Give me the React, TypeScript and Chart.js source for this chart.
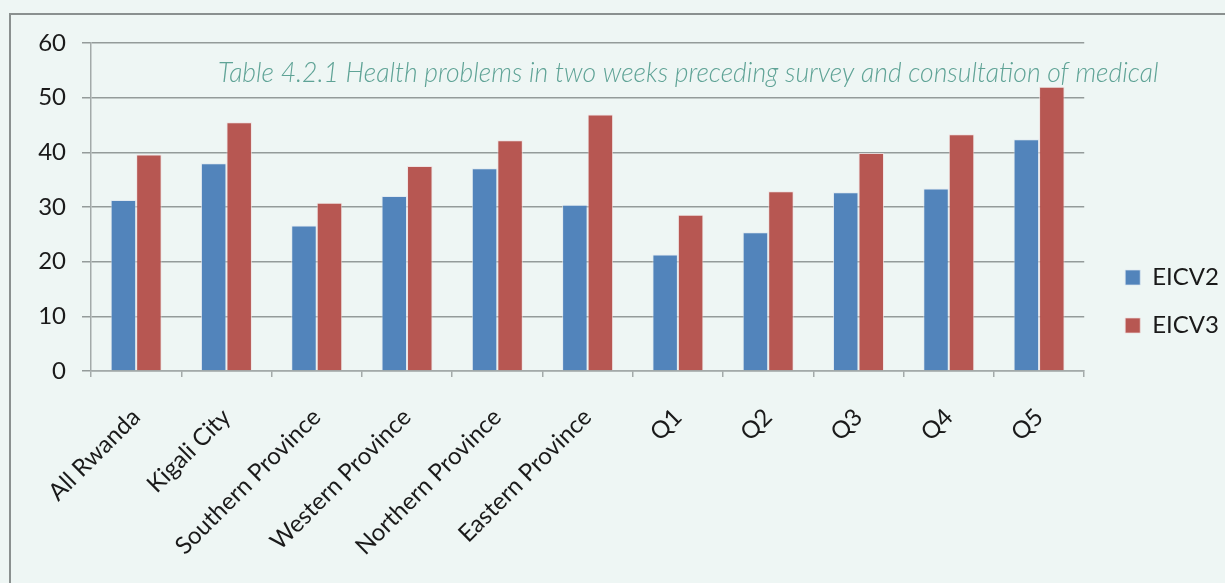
import React, { useEffect, useRef } from "react";
import { Chart, registerables } from "chart.js";

Chart.register(...registerables);

const categories = [
  "All Rwanda",
  "Kigali City",
  "Southern Province",
  "Western Province",
  "Northern Province",
  "Eastern Province",
  "Q1",
  "Q2",
  "Q3",
  "Q4",
  "Q5",
];
const eicv2 = [31.3, 38.0, 26.6, 32.0, 37.1, 30.4, 21.3, 25.4, 32.7, 33.4, 42.4];
const eicv3 = [39.6, 45.5, 30.8, 37.5, 42.2, 46.9, 28.6, 32.9, 39.9, 43.3, 52.0];
const seriesNames = ["EICV2", "EICV3"];
const yMin = 0;
const yMax = 60;
const yStep = 10;
const titleText =
  "Table 4.2.1 Health problems in two weeks preceding survey and consultation of medical";

const BG = "#eef6f4";
const GRID = "#949b9a";
const AXIS = "#a3aaa9";
const FONT = "Lato, 'Open Sans', sans-serif";

export default function App() {
  const ref = useRef<HTMLCanvasElement | null>(null);

  useEffect(() => {
    document.body.style.margin = "0";
    document.body.style.background = BG;
    const canvas = ref.current;
    if (!canvas) return;

    const titlePlugin = {
      id: "tableTitle",
      afterDraw(chart: any) {
        const { ctx, chartArea } = chart;
        ctx.save();
        ctx.font = "italic 300 26.5px " + FONT;
        ctx.fillStyle = "#5fa396";
        ctx.textAlign = "left";
        ctx.textBaseline = "alphabetic";
        ctx.fillText(titleText, chartArea.left + 127, chartArea.top + 39);
        ctx.restore();
      },
    };

    const legendShift = {
      id: "legendShift",
      afterLayout(chart: any) {
        const lg = chart.legend;
        if (lg) {
          lg.left += 17;
          lg.right += 17;
        }
      },
    };

    const chart = new Chart(canvas, {
      type: "bar",
      data: {
        labels: categories,
        datasets: [
          {
            label: seriesNames[0],
            data: eicv2,
            backgroundColor: "#5284bb",
            borderColor: "rgba(220,230,240,0.7)",
            borderWidth: 1,
          },
          {
            label: seriesNames[1],
            data: eicv3,
            backgroundColor: "#b75752",
            borderColor: "rgba(240,220,220,0.7)",
            borderWidth: 1,
          },
        ],
      },
      options: {
        animation: false,
        responsive: false,
        maintainAspectRatio: false,
        devicePixelRatio: 1,
        layout: { padding: { left: 0, top: 43, right: 13, bottom: 23 } },
        datasets: {
          bar: { categoryPercentage: 0.565, barPercentage: 1.0 },
        },
        plugins: {
          title: { display: false },
          tooltip: { enabled: false },
          legend: {
            display: true,
            position: "right",
            labels: {
              boxWidth: 15,
              boxHeight: 15,
              padding: 24,
              color: "#1a1a1a",
              font: { family: FONT, size: 24 },
            },
          },
        },
        scales: {
          x: {
            type: "category",
            afterFit(scale: any) {
              scale.height = 583 - 23 - 371;
            },
            grid: {
              display: true,
              drawOnChartArea: false,
              drawTicks: true,
              tickLength: 6,
              offset: true,
              color: AXIS,
              lineWidth: 1.5,
            },
            border: { display: true, color: AXIS, width: 1.5 },
            ticks: {
              autoSkip: false,
              minRotation: 45,
              maxRotation: 45,
              padding: 26,
              color: "#1a1a1a",
              font: { family: FONT, size: 24 },
            },
          },
          y: {
            min: yMin,
            max: yMax,
            afterFit(scale: any) {
              scale.width = 91;
            },
            grid: {
              color: GRID,
              lineWidth: 1.5,
              drawTicks: true,
              tickLength: 9,
            },
            border: { display: true, color: AXIS, width: 1.5 },
            ticks: {
              stepSize: yStep,
              padding: 16,
              color: "#1a1a1a",
              font: { family: FONT, size: 24 },
            },
          },
        },
      },
      plugins: [titlePlugin, legendShift],
    });

    return () => {
      chart.destroy();
    };
  }, []);

  return (
    <div
      style={{
        position: "fixed",
        left: 0,
        top: 0,
        width: 1225,
        height: 583,
        background: BG,
        overflow: "hidden",
      }}
    >
      <div
        style={{
          position: "absolute",
          left: 9,
          top: 13,
          width: 1400,
          height: 800,
          borderLeft: "2px solid #8a908f",
          borderTop: "2px solid #8a908f",
        }}
      />
      <canvas
        ref={ref}
        width={1225}
        height={583}
        style={{ position: "absolute", left: 0, top: 0, width: 1225, height: 583, display: "block" }}
      />
    </div>
  );
}
